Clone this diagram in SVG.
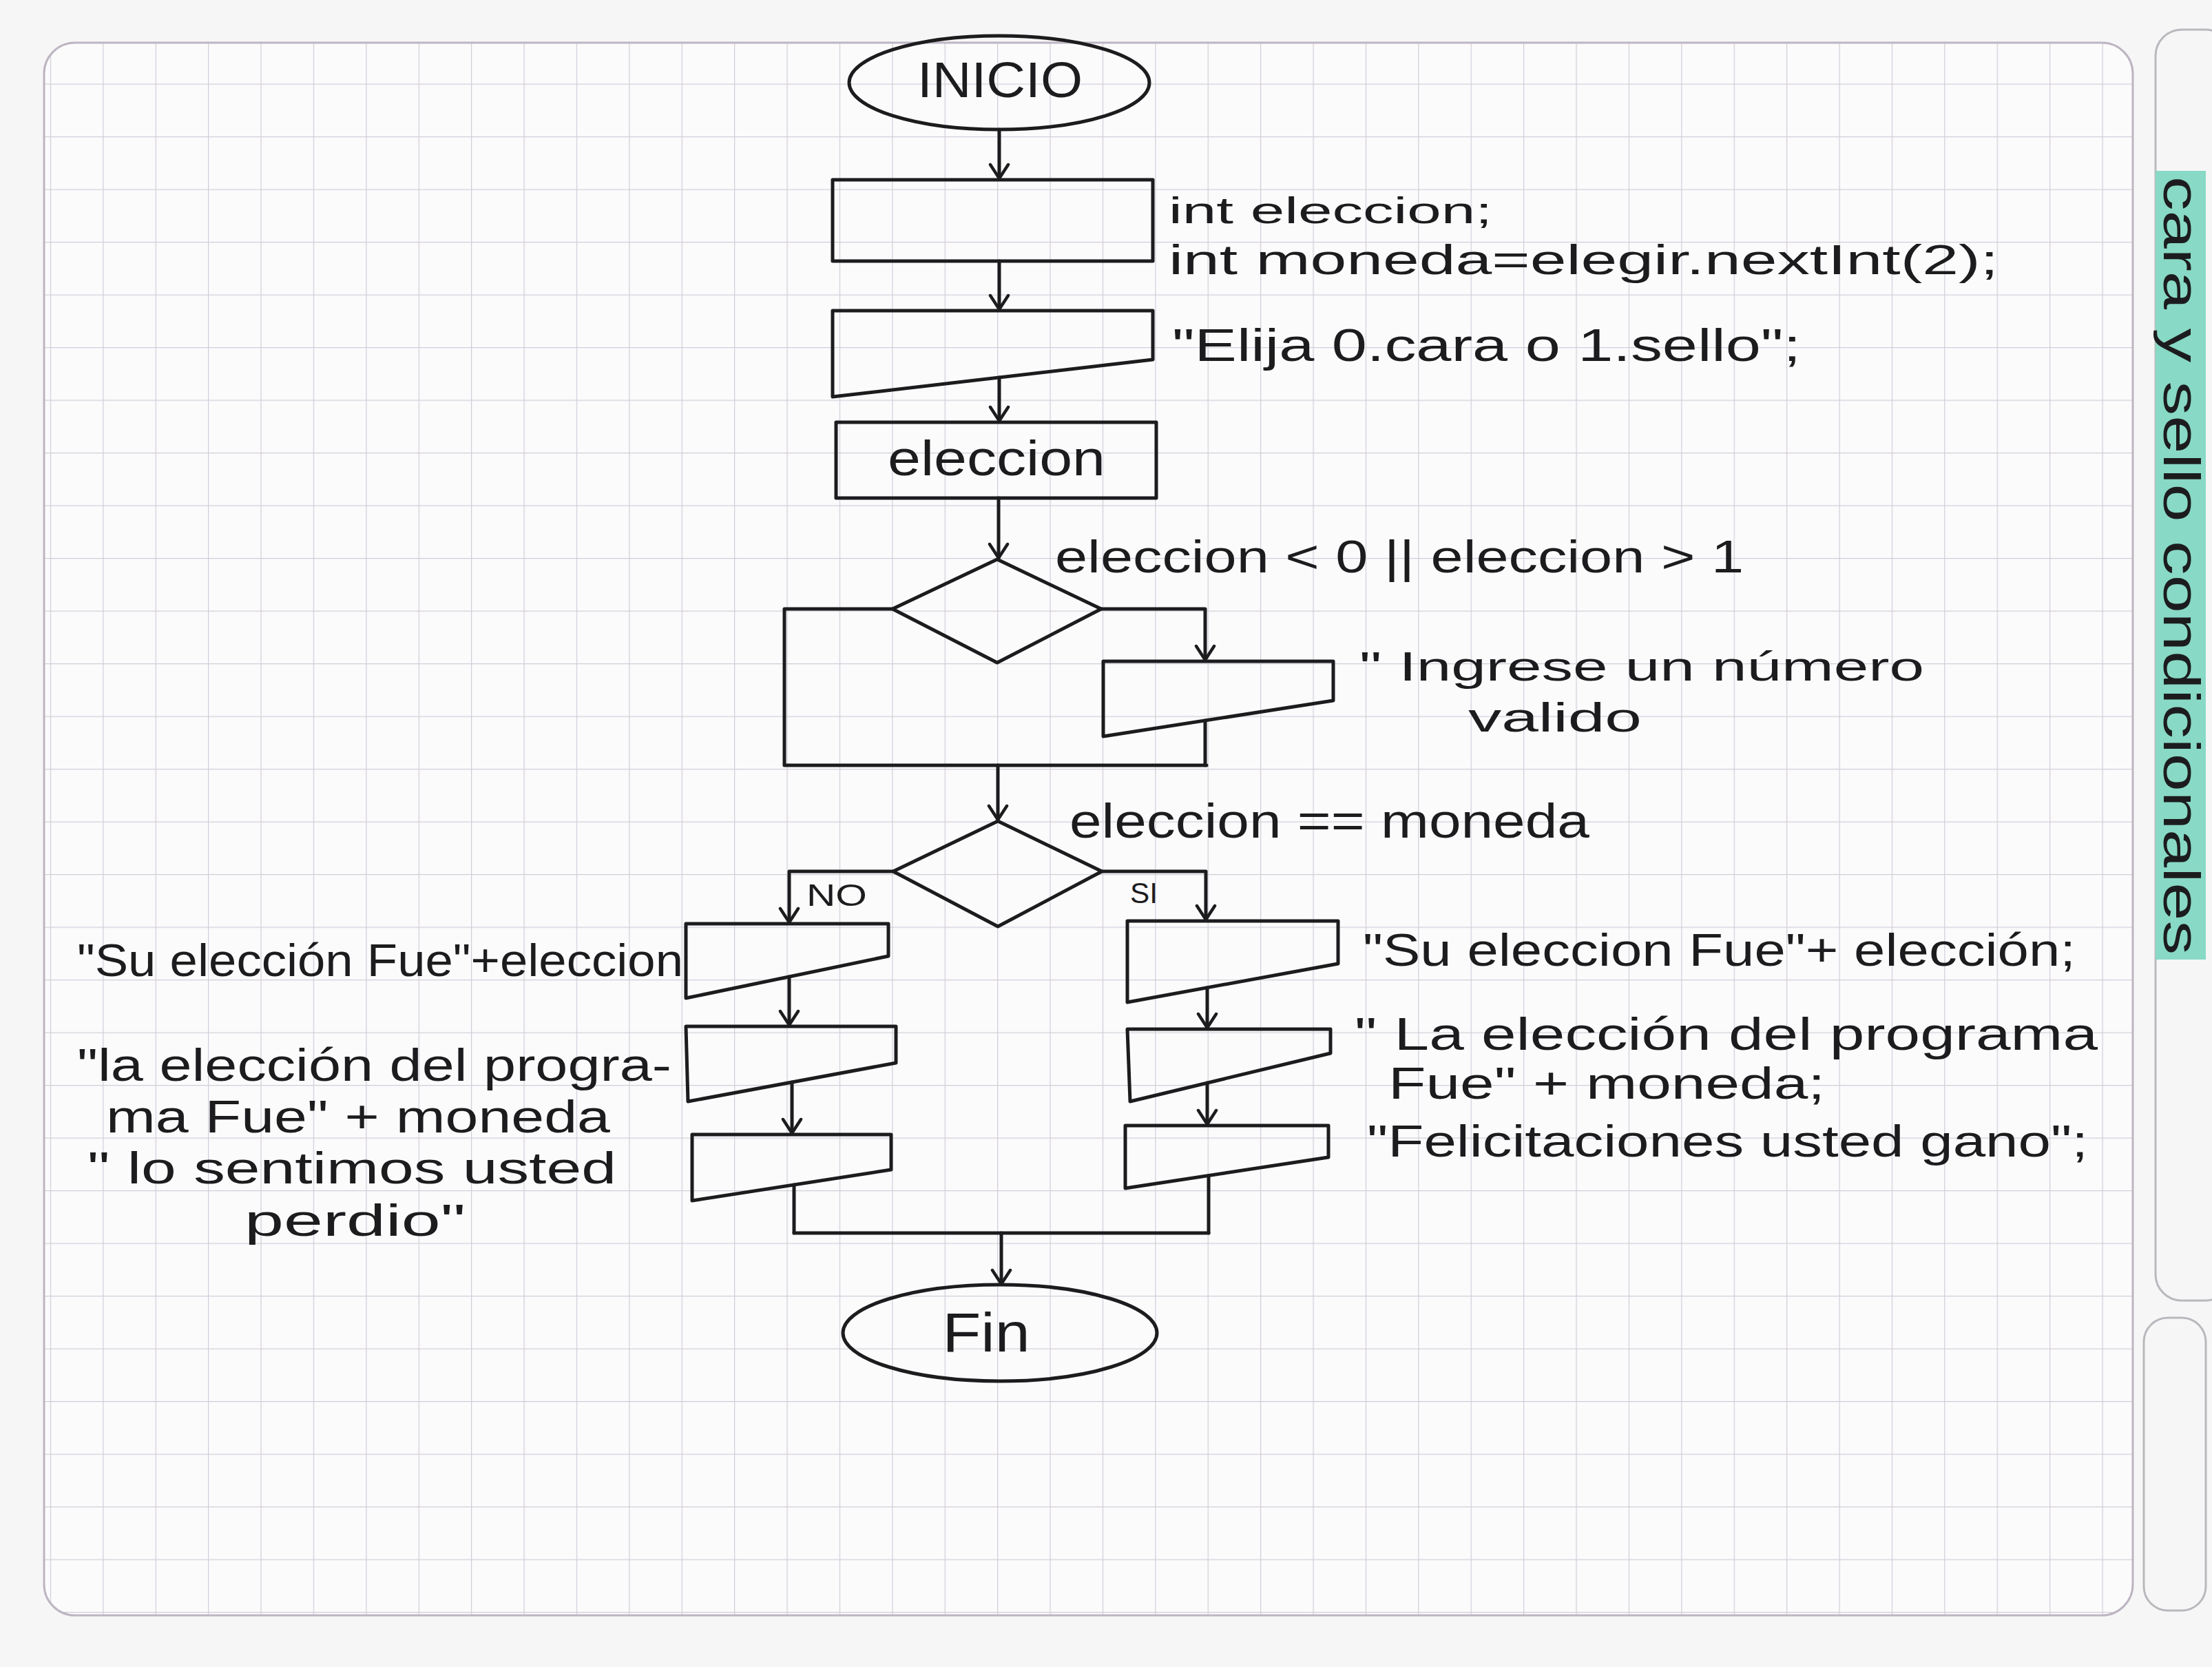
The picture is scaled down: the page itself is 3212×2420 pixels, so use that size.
<svg xmlns="http://www.w3.org/2000/svg" width="3212" height="2420" viewBox="0 0 3212 2420">
<style>
.ln{stroke:#1c1c1e;stroke-width:5;fill:none;stroke-linecap:round;stroke-linejoin:round}
.sh{stroke:#1c1c1e;stroke-width:5;fill:none;stroke-linejoin:round}
.t{font-family:"Liberation Sans",Arial,sans-serif;fill:#1c1c1e}
.pg{fill:none;stroke:#bdb5c2;stroke-width:3}
.tab{fill:none;stroke:#b9b9bd;stroke-width:3}
</style>
<defs>
<pattern id="grid" width="76.4" height="76.5" patternUnits="userSpaceOnUse" x="1448" y="810">
<path d="M0,0 H76.4 M0,0 V76.5" stroke="#d3cdd8" stroke-width="2.5" fill="none"/>
</pattern>
<marker id="arr" viewBox="-24 -16 28 32" markerWidth="28" markerHeight="32" refX="0" refY="0" orient="auto" markerUnits="userSpaceOnUse">
<path d="M-20,-13 L0,0 L-20,13" fill="none" stroke="#1c1c1e" stroke-width="4.5" stroke-linecap="round" stroke-linejoin="round"/>
</marker>
</defs>
<rect x="0" y="0" width="3212" height="2420" fill="#f6f6f7"/>
<g id="page">
<rect x="64" y="62" width="3033" height="2283" rx="45" fill="#fbfbfc"/>
<rect x="64" y="62" width="3033" height="2283" rx="45" fill="url(#grid)"/>
<rect x="64" y="62" width="3033" height="2283" rx="45" class="pg"/>
<rect x="3130" y="43" width="110" height="1845" rx="38" fill="#fbfbfc" class="tab"/>
<rect x="3113" y="1913" width="90" height="425" rx="35" fill="#fbfbfc" class="tab"/>
<rect x="3130" y="248" width="73" height="1145" fill="#88d9c5"/>
<text class="t" transform="translate(3142,256) rotate(90)" font-size="74" textLength="1130" lengthAdjust="spacingAndGlyphs">cara y sello condicionales</text>
</g>
<g id="connectors">
<line class="ln" x1="1451" y1="188" x2="1451" y2="259" marker-end="url(#arr)"/>
<line class="ln" x1="1451" y1="379" x2="1451" y2="449" marker-end="url(#arr)"/>
<line class="ln" x1="1451" y1="548" x2="1451" y2="611" marker-end="url(#arr)"/>
<line class="ln" x1="1450" y1="723" x2="1450" y2="810" marker-end="url(#arr)"/>
<path class="ln" d="M1296,884 H1139 V1111 H1752"/>
<path class="ln" d="M1599,884 H1750 V958" marker-end="url(#arr)"/>
<line class="ln" x1="1750" y1="1046" x2="1750" y2="1111"/>
<line class="ln" x1="1449" y1="1111" x2="1449" y2="1190" marker-end="url(#arr)"/>
<path class="ln" d="M1297,1265 H1146 V1339" marker-end="url(#arr)"/>
<path class="ln" d="M1600,1265 H1751 V1335" marker-end="url(#arr)"/>
<line class="ln" x1="1146" y1="1418" x2="1146" y2="1488" marker-end="url(#arr)"/>
<line class="ln" x1="1150" y1="1571" x2="1150" y2="1645" marker-end="url(#arr)"/>
<line class="ln" x1="1153" y1="1720" x2="1153" y2="1790"/>
<line class="ln" x1="1753" y1="1434" x2="1753" y2="1492" marker-end="url(#arr)"/>
<line class="ln" x1="1753" y1="1572" x2="1753" y2="1632" marker-end="url(#arr)"/>
<line class="ln" x1="1755" y1="1707" x2="1755" y2="1790"/>
<path class="ln" d="M1153,1790 H1755"/>
<line class="ln" x1="1454" y1="1790" x2="1454" y2="1864" marker-end="url(#arr)"/>
<text class="t" x="1171" y="1315" font-size="44" textLength="88" lengthAdjust="spacingAndGlyphs">NO</text>
<text class="t" x="1641" y="1311" font-size="42" textLength="40" lengthAdjust="spacingAndGlyphs">SI</text>
</g>
<g id="inicio">
<ellipse class="sh" cx="1451" cy="120" rx="218" ry="68" stroke-width="4"/>
<text class="t" x="1452" y="141" font-size="72" text-anchor="middle" textLength="240" lengthAdjust="spacingAndGlyphs">INICIO</text>
</g>
<g id="declaracion">
<rect class="sh" x="1209" y="261" width="465" height="118"/>
<text class="t" x="1697" y="324" font-size="54" textLength="470" lengthAdjust="spacingAndGlyphs">int eleccion;</text>
<text class="t" x="1697" y="398" font-size="62" textLength="1205" lengthAdjust="spacingAndGlyphs">int moneda=elegir.nextInt(2);</text>
</g>
<g id="mensaje-elija">
<path class="sh" d="M1209,451 L1674,451 L1674,522 L1209,576 Z"/>
<text class="t" x="1702" y="524" font-size="66" textLength="913" lengthAdjust="spacingAndGlyphs">"Elija 0.cara o 1.sello";</text>
</g>
<g id="leer-eleccion">
<rect class="sh" x="1214" y="613" width="465" height="110"/>
<text class="t" x="1447" y="690" font-size="72" text-anchor="middle" textLength="316" lengthAdjust="spacingAndGlyphs">eleccion</text>
</g>
<g id="decision-rango">
<polygon class="sh" points="1448,812 1599,884 1448,962 1296,884" stroke-width="4"/>
<text class="t" x="1532" y="831" font-size="66" textLength="1000" lengthAdjust="spacingAndGlyphs">eleccion &lt; 0 || eleccion &gt; 1</text>
</g>
<g id="mensaje-invalido">
<path class="sh" d="M1602,960 H1936 V1017 L1602,1069 Z"/>
<text class="t" x="1974" y="988" font-size="60" textLength="820" lengthAdjust="spacingAndGlyphs">" Ingrese un número</text>
<text class="t" x="2132" y="1062" font-size="60" textLength="252" lengthAdjust="spacingAndGlyphs">valido</text>
</g>
<g id="decision-moneda">
<polygon class="sh" points="1449,1192 1600,1265 1449,1345 1297,1265" stroke-width="4"/>
<text class="t" x="1553" y="1216" font-size="70" textLength="755" lengthAdjust="spacingAndGlyphs">eleccion == moneda</text>
</g>
<g id="no-1">
<path class="sh" d="M996,1341 H1290 V1388 L996,1449 Z"/>
<text class="t" x="112" y="1417" font-size="66" textLength="880" lengthAdjust="spacingAndGlyphs">"Su elección Fue"+eleccion</text>
</g>
<g id="no-2">
<path class="sh" d="M996,1490 H1301 V1543 L999,1599 Z"/>
<text class="t" x="112" y="1569" font-size="66" textLength="863" lengthAdjust="spacingAndGlyphs">"la elección del progra-</text>
<text class="t" x="154" y="1644" font-size="66" textLength="732" lengthAdjust="spacingAndGlyphs">ma Fue" + moneda</text>
</g>
<g id="no-3">
<path class="sh" d="M1005,1647 H1294 V1698 L1005,1743 Z"/>
<text class="t" x="127" y="1718" font-size="64" textLength="768" lengthAdjust="spacingAndGlyphs">" lo sentimos usted</text>
<text class="t" x="355" y="1794" font-size="64" textLength="321" lengthAdjust="spacingAndGlyphs">perdio"</text>
</g>
<g id="si-1">
<path class="sh" d="M1637,1337 H1943 V1399 L1637,1455 Z"/>
<text class="t" x="1979" y="1402" font-size="66" textLength="1035" lengthAdjust="spacingAndGlyphs">"Su eleccion Fue"+ elección;</text>
</g>
<g id="si-2">
<path class="sh" d="M1637,1494 H1932 V1529 L1641,1599 Z"/>
<text class="t" x="1967" y="1524" font-size="66" textLength="1079" lengthAdjust="spacingAndGlyphs">" La elección del programa</text>
<text class="t" x="2016" y="1595" font-size="64" textLength="634" lengthAdjust="spacingAndGlyphs">Fue" + moneda;</text>
</g>
<g id="si-3">
<path class="sh" d="M1634,1634 H1929 V1680 L1634,1725 Z"/>
<text class="t" x="1985" y="1679" font-size="64" textLength="1047" lengthAdjust="spacingAndGlyphs">"Felicitaciones usted gano";</text>
</g>
<g id="fin">
<ellipse class="sh" cx="1452" cy="1935" rx="228" ry="70" stroke-width="4"/>
<text class="t" x="1432" y="1962" font-size="80" text-anchor="middle" textLength="127" lengthAdjust="spacingAndGlyphs">Fin</text>
</g>
</svg>
